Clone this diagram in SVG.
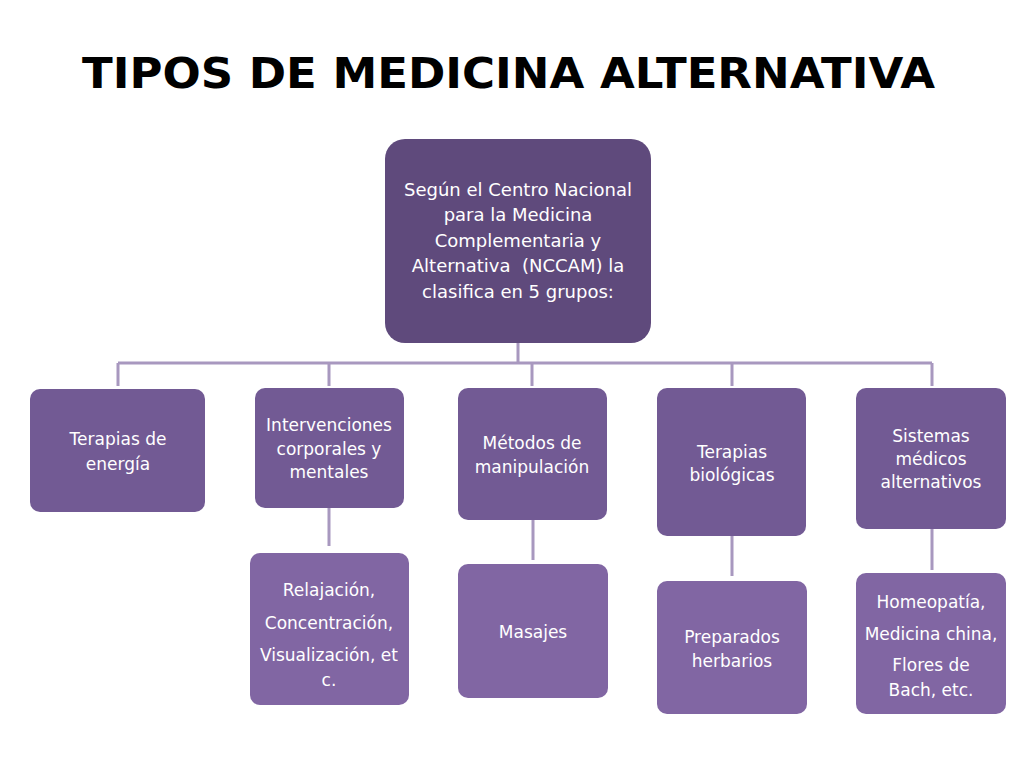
<svg xmlns="http://www.w3.org/2000/svg" width="1024" height="768" viewBox="0 0 1024 768">
<style>
.t{font-family:"DejaVu Sans","Liberation Sans",sans-serif;fill:#ffffff;text-anchor:middle;font-size:17px}
.tb{font-size:18px}
.l1{fill:#5f4a7c}
.l2{fill:#725a94}
.l3{fill:#8166a3}
.c{stroke:#a898bf;stroke-width:3;fill:none}
.title{font-family:"DejaVu Sans","Liberation Sans",sans-serif;font-weight:bold;font-size:42px;fill:#000000}
</style>
<rect width="1024" height="768" fill="#ffffff"/>
<text class="title" x="82" y="88" textLength="853" lengthAdjust="spacingAndGlyphs">TIPOS DE MEDICINA ALTERNATIVA</text>
<g id="connectors">
<path class="c" d="M518 343 V363 M118 363 H932 M118 363 V386 M329 363 V386 M532 363 V386 M732 363 V386 M932 363 V386"/>
<path class="c" d="M329 508 V546 M533 520 V560 M732 536 V576 M932 529 V570"/>
</g>
<g id="root">
<rect class="l1" x="385" y="139" width="266" height="204" rx="20"/>
<text class="t tb" x="518" y="196">Según el Centro Nacional</text>
<text class="t tb" x="518" y="221">para la Medicina</text>
<text class="t tb" x="518" y="247">Complementaria y</text>
<text class="t tb" x="518" y="272" xml:space="preserve">Alternativa  (NCCAM) la</text>
<text class="t tb" x="518" y="298">clasifica en 5 grupos:</text>
</g>
<g id="energia">
<rect class="l2" x="30" y="389" width="175" height="123" rx="10"/>
<text class="t" x="118" y="445">Terapias de</text>
<text class="t" x="118" y="470">energía</text>
</g>
<g id="intervenciones">
<rect class="l2" x="255" y="388" width="149" height="120" rx="10"/>
<text class="t" x="329" y="431">Intervenciones</text>
<text class="t" x="329" y="455">corporales y</text>
<text class="t" x="329" y="478">mentales</text>
</g>
<g id="metodos">
<rect class="l2" x="458" y="388" width="149" height="132" rx="10"/>
<text class="t" x="532" y="449">Métodos de</text>
<text class="t" x="532" y="473">manipulación</text>
</g>
<g id="biologicas">
<rect class="l2" x="657" y="388" width="149" height="148" rx="10"/>
<text class="t" x="732" y="458">Terapias</text>
<text class="t" x="732" y="481">biológicas</text>
</g>
<g id="sistemas">
<rect class="l2" x="856" y="388" width="150" height="141" rx="10"/>
<text class="t" x="931" y="442">Sistemas</text>
<text class="t" x="931" y="465">médicos</text>
<text class="t" x="931" y="488">alternativos</text>
</g>
<g id="relajacion">
<rect class="l3" x="250" y="553" width="159" height="152" rx="10"/>
<text class="t" x="329" y="596">Relajación,</text>
<text class="t" x="329" y="629">Concentración,</text>
<text class="t" x="329" y="661">Visualización, et</text>
<text class="t" x="329" y="686">c.</text>
</g>
<g id="masajes">
<rect class="l3" x="458" y="564" width="150" height="134" rx="10"/>
<text class="t" x="533" y="638">Masajes</text>
</g>
<g id="preparados">
<rect class="l3" x="657" y="581" width="150" height="133" rx="10"/>
<text class="t" x="732" y="643">Preparados</text>
<text class="t" x="732" y="667">herbarios</text>
</g>
<g id="homeopatia">
<rect class="l3" x="856" y="573" width="150" height="141" rx="10"/>
<text class="t" x="931" y="608">Homeopatía,</text>
<text class="t" x="931" y="640">Medicina china,</text>
<text class="t" x="931" y="671">Flores de</text>
<text class="t" x="931" y="696">Bach, etc.</text>
</g>
</svg>
